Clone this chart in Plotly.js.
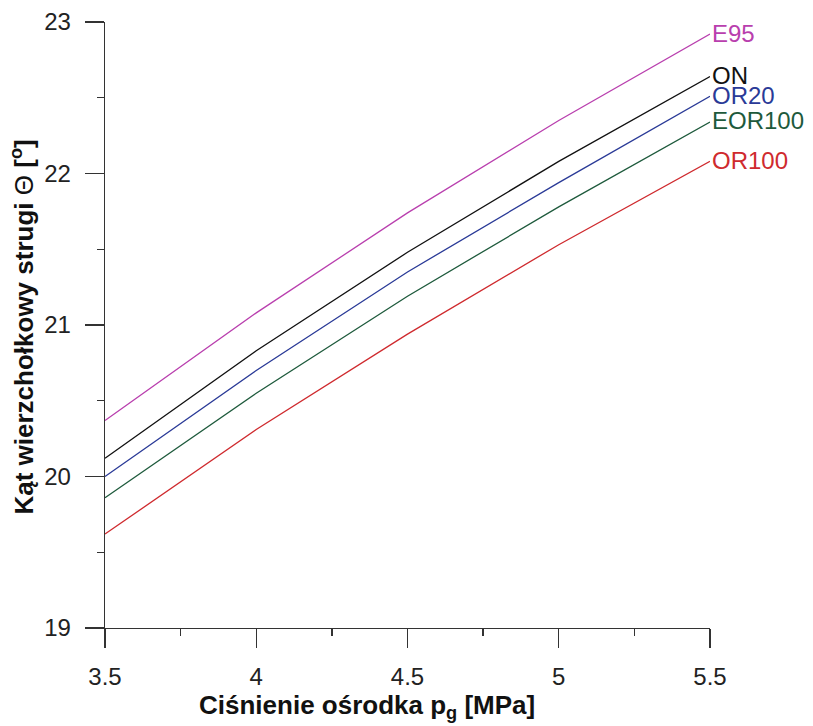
<!DOCTYPE html>
<html>
<head>
<meta charset="utf-8">
<script src="https://cdn.plot.ly/plotly-3.0.1.min.js"></script>
<style>html,body{margin:0;padding:0;background:#fff;}#chart{width:813px;height:726px;}</style>
</head>
<body>
<div id="chart"></div>
<script>
const pressure = [3.5, 4, 4.5, 5, 5.5];
const seriesNames = ["E95", "ON", "OR20", "EOR100", "OR100"];
const E95 = [20.37, 21.08, 21.74, 22.35, 22.92];
const ON = [20.12, 20.83, 21.48, 22.08, 22.64];
const OR20 = [20.00, 20.70, 21.35, 21.94, 22.51];
const EOR100 = [19.86, 20.55, 21.19, 21.78, 22.34];
const OR100 = [19.62, 20.31, 20.94, 21.53, 22.08];
const colors = ["#B93FAE", "#111111", "#2A3A97", "#1E5A3C", "#CF2A2E"];
const xTickVals = [3.5, 4, 4.5, 5, 5.5];
const xTickText = ["3.5", "4", "4.5", "5", "5.5"];

const values = [E95, ON, OR20, EOR100, OR100];
const font = "Liberation Sans, Arial, sans-serif";
const narrow = "Liberation Sans Narrow, Arial Narrow, Liberation Sans, sans-serif";

const traces = values.map((v, i) => ({
  x: pressure, y: v, type: "scatter", mode: "lines",
  name: seriesNames[i], line: {color: colors[i], width: 1.3}, showlegend: false
}));

const annotations = values.map((v, i) => ({
  x: pressure[pressure.length - 1], y: v[v.length - 1], xref: "x", yref: "y",
  text: seriesNames[i], showarrow: false, xanchor: "left", yanchor: "middle",
  xshift: 0, yshift: 1, font: {family: font, size: 24, color: colors[i]}
}));
annotations.push({
  xref: "paper", yref: "paper", x: 0.433, y: -0.129, yanchor: "middle", xanchor: "center",
  showarrow: false, text: "<b>Ciśnienie ośrodka p<sub>g</sub> [MPa]</b>",
  font: {family: narrow, size: 26, color: "#111"}
});
annotations.push({
  xref: "paper", yref: "paper", x: -0.136, y: 0.497, xanchor: "center", yanchor: "middle",
  showarrow: false, textangle: -90,
  text: "<b>Kąt wierzchołkowy strugi</b> Θ <b>[<sup>o</sup>]</b>",
  font: {family: narrow, size: 26, color: "#111"}
});

const layout = {
  width: 813, height: 726,
  margin: {l: 105, r: 103, t: 22, b: 98},
  paper_bgcolor: "#fff", plot_bgcolor: "#fff",
  xaxis: {
    range: [3.5, 5.5], tickvals: xTickVals, ticktext: xTickText,
    showgrid: false, zeroline: false, showline: true, linecolor: "#333", linewidth: 1.3,
    ticks: "outside", ticklen: 19, tickwidth: 1.3, tickcolor: "#333", ticklabelstandoff: 8,
    minor: {dtick: 0.25, ticks: "outside", ticklen: 7, tickwidth: 1.3, tickcolor: "#333", showgrid: false},
    tickfont: {family: font, size: 24, color: "#222"}
  },
  yaxis: {
    range: [19, 23], dtick: 1,
    showgrid: false, zeroline: false, showline: true, linecolor: "#333", linewidth: 1.3,
    ticks: "outside", ticklen: 19, tickwidth: 1.3, tickcolor: "#333", ticklabelstandoff: 9,
    minor: {dtick: 0.5, ticks: "outside", ticklen: 7, tickwidth: 1.3, tickcolor: "#333", showgrid: false},
    tickfont: {family: font, size: 24, color: "#222"}
  },
  annotations: annotations
};

Plotly.newPlot("chart", traces, layout, {displayModeBar: false, staticPlot: true});
</script>
</body>
</html>
